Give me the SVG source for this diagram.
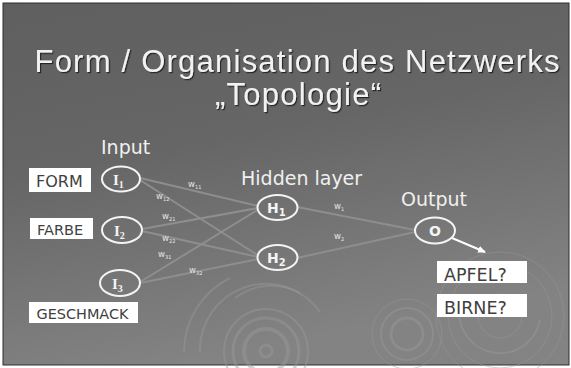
<svg xmlns="http://www.w3.org/2000/svg" width="571" height="368" viewBox="0 0 571 368">
<defs>
<linearGradient id="bg" x1="0" y1="0" x2="0.3" y2="1">
<stop offset="0" stop-color="#5f5f5f"/>
<stop offset="0.45" stop-color="#666666"/>
<stop offset="1" stop-color="#838383"/>
</linearGradient>
<filter id="sh" x="-10%" y="-20%" width="120%" height="140%">
<feDropShadow dx="1.2" dy="1.2" stdDeviation="0.6" flood-color="#1a1a1a" flood-opacity="0.9"/>
</filter>
<marker id="ah" markerWidth="8" markerHeight="8" refX="7" refY="4" orient="auto" markerUnits="userSpaceOnUse">
<path d="M0,0.5 L8,4 L0,7.5 Z" fill="#ffffff"/>
</marker>
<style>
.title{font-family:"Liberation Sans",Arial,sans-serif;font-size:31px;fill:#f2f2f2;text-anchor:middle}
.lbl{font-family:"DejaVu Sans",Verdana,sans-serif;font-size:19px;fill:#f0f0f0}
.node{fill:none;stroke:#f4f4f4;stroke-width:2}
.box{fill:#ffffff;stroke:none}
.boxt{font-family:"DejaVu Sans",Verdana,sans-serif;fill:#404040}
.ni{font-family:"Liberation Serif","Times New Roman",serif;font-weight:bold;font-size:15px;fill:#f4f4f4}
.nh{font-family:"DejaVu Sans",Verdana,sans-serif;font-weight:bold;font-size:14px;fill:#f4f4f4}
.sub{font-size:10px}
.edge{stroke:#8e8e8e;stroke-width:2;fill:none}
.w{font-family:"DejaVu Sans",Verdana,sans-serif;font-size:8.5px;fill:#e6e6e6}
.ws{font-size:5px}
.ring{fill:none;stroke:#9a9a9a;stroke-opacity:0.45}
</style>
</defs>
<rect x="0" y="0" width="571" height="368" fill="#ffffff"/>
<rect x="3" y="3" width="566" height="362" fill="url(#bg)" stroke="#2e2e2e" stroke-width="1"/>
<g id="decor">
<g class="ring" stroke-width="2">
<path d="M184,352 A83,83 0 0 1 230,278"/>
<path d="M235,298 A60,60 0 0 1 300,293"/>
<circle cx="266" cy="351" r="42"/>
<circle cx="266" cy="351" r="33" stroke-width="3"/>
<circle cx="266" cy="351" r="22" stroke-width="4"/>
<circle cx="266" cy="351" r="6" stroke-width="3"/>
<path d="M200,352 A66,66 0 0 1 320,312"/>
<circle cx="407" cy="334" r="35" stroke-width="1"/>
<circle cx="407" cy="334" r="26"/>
<circle cx="407" cy="334" r="16" stroke-width="3"/>
<circle cx="500" cy="316" r="64" stroke-width="1"/>
<circle cx="500" cy="316" r="52" stroke-width="1"/>
<path d="M460,305 A40,40 0 0 0 540,320"/>
<circle cx="500" cy="316" r="22" stroke-width="1"/>
</g>
</g>
<g id="title" filter="url(#sh)">
<text class="title" x="297" y="72" textLength="525" lengthAdjust="spacing">Form / Organisation des Netzwerks</text>
<text class="title" x="298" y="105" textLength="166" lengthAdjust="spacing">„Topologie“</text>
</g>
<g id="connectors">
<line class="edge" x1="140" y1="178" x2="258" y2="206"/>
<line class="edge" x1="140" y1="180" x2="259" y2="256"/>
<line class="edge" x1="142" y1="229" x2="258" y2="208"/>
<line class="edge" x1="142" y1="231" x2="258" y2="257"/>
<line class="edge" x1="140" y1="282" x2="259" y2="209"/>
<line class="edge" x1="140" y1="283" x2="258" y2="259"/>
<line class="edge" x1="297" y1="207" x2="415" y2="230"/>
<line class="edge" x1="297" y1="258" x2="415" y2="232"/>
<line x1="452" y1="238" x2="485" y2="252" stroke="#ffffff" stroke-width="2" marker-end="url(#ah)"/>
</g>
<g id="weights">
<text class="w" x="188" y="187">w<tspan class="ws" dy="1.5">11</tspan></text>
<text class="w" x="156" y="199">w<tspan class="ws" dy="1.5">12</tspan></text>
<text class="w" x="162" y="219">w<tspan class="ws" dy="1.5">21</tspan></text>
<text class="w" x="162" y="241">w<tspan class="ws" dy="1.5">22</tspan></text>
<text class="w" x="158" y="257">w<tspan class="ws" dy="1.5">31</tspan></text>
<text class="w" x="189" y="273">w<tspan class="ws" dy="1.5">32</tspan></text>
<text class="w" x="334" y="209">w<tspan class="ws" dy="1.5">1</tspan></text>
<text class="w" x="334" y="239">w<tspan class="ws" dy="1.5">2</tspan></text>
</g>
<g id="layer-labels">
<text class="lbl" x="101" y="154">Input</text>
<text class="lbl" x="241" y="185">Hidden layer</text>
<text class="lbl" x="401" y="206">Output</text>
</g>
<g id="node-I1">
<ellipse class="node" cx="121" cy="179" rx="19" ry="12.5"/>
<text class="ni" x="113" y="185">I<tspan class="sub" dy="3">1</tspan></text>
</g>
<g id="node-I2">
<ellipse class="node" cx="122" cy="230" rx="20" ry="13"/>
<text class="ni" x="114" y="236">I<tspan class="sub" dy="3">2</tspan></text>
</g>
<g id="node-I3">
<ellipse class="node" cx="120" cy="283" rx="20" ry="13"/>
<text class="ni" x="112" y="289">I<tspan class="sub" dy="3">3</tspan></text>
</g>
<g id="node-H1">
<ellipse class="node" cx="277.5" cy="207.5" rx="20" ry="12.5"/>
<text class="nh" x="267" y="213">H<tspan class="sub" dy="3">1</tspan></text>
</g>
<g id="node-H2">
<ellipse class="node" cx="277.5" cy="257.5" rx="20" ry="12.5"/>
<text class="nh" x="267" y="263">H<tspan class="sub" dy="3">2</tspan></text>
</g>
<g id="node-O">
<ellipse class="node" cx="435" cy="230.5" rx="20" ry="13"/>
<text class="nh" x="435" y="235.5" text-anchor="middle">O</text>
</g>
<g id="box-form">
<rect class="box" x="29" y="168" width="62" height="24"/>
<text class="boxt" x="36" y="186.5" style="font-size:16px">FORM</text>
</g>
<g id="box-farbe">
<rect class="box" x="30" y="218" width="63" height="21"/>
<text class="boxt" x="37" y="234.5" style="font-size:14.5px">FARBE</text>
</g>
<g id="box-geschmack">
<rect class="box" x="29" y="302" width="109" height="21"/>
<text class="boxt" x="36.5" y="318.5" style="font-size:14px" textLength="92" lengthAdjust="spacingAndGlyphs">GESCHMACK</text>
</g>
<g id="box-apfel">
<rect class="box" x="437" y="261" width="90" height="22"/>
<text class="boxt" x="444" y="281" style="font-size:17.5px">APFEL?</text>
</g>
<g id="box-birne">
<rect class="box" x="437" y="294" width="90" height="23"/>
<text class="boxt" x="444" y="314" style="font-size:17.5px">BIRNE?</text>
</g>
</svg>
